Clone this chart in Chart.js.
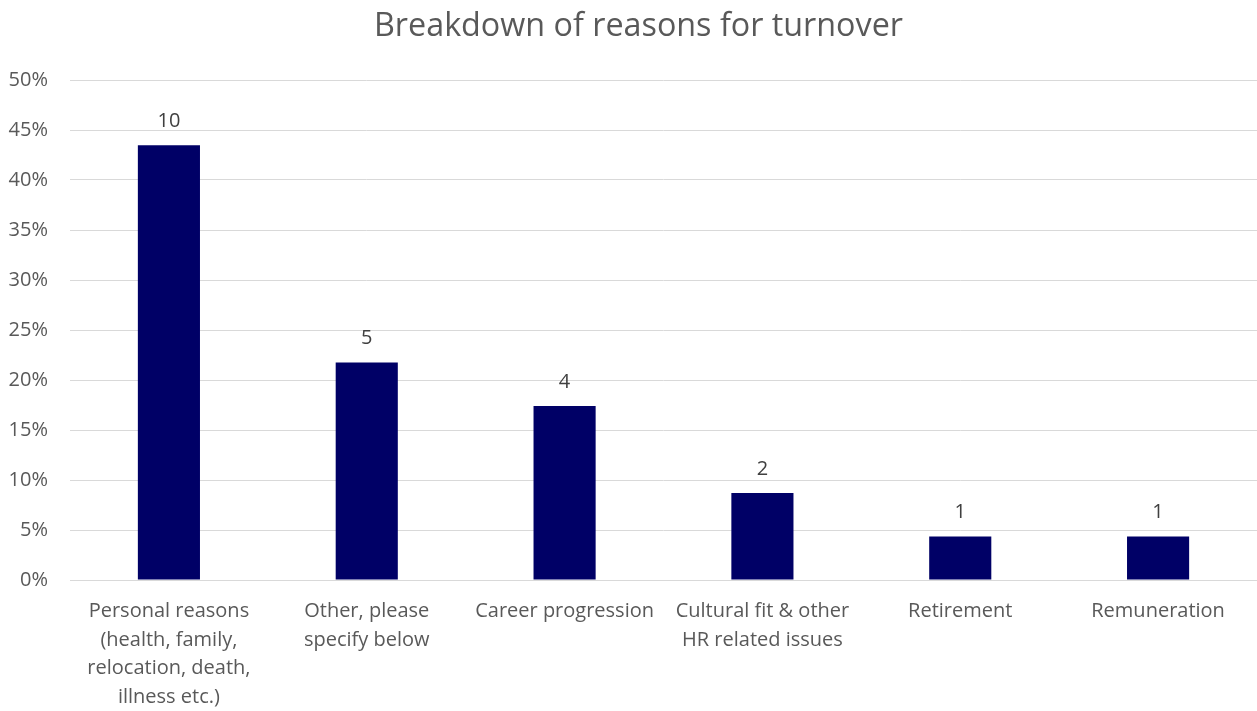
<!DOCTYPE html>
<html>
<head>
<meta charset="utf-8">
<script src="https://cdn.jsdelivr.net/npm/chart.js@4/dist/chart.umd.min.js"></script>
<style>
  html, body { margin: 0; padding: 0; background: #fff; }
  #wrap { width: 1257px; height: 711px; }
</style>
</head>
<body>
<div id="wrap"><canvas id="chart"></canvas></div>
<script>
const categories = [
  ["Personal reasons", "(health, family,", "relocation, death,", "illness etc.)"],
  ["Other, please", "specify below"],
  "Career progression",
  ["Cultural fit & other", "HR related issues"],
  "Retirement",
  "Remuneration",
];
// number of leavers per reason
const counts = [10, 5, 4, 2, 1, 1];
const totalLeavers = 23;
const shares = counts.map((c) => (c / totalLeavers) * 100);

const yTicks = [0, 5, 10, 15, 20, 25, 30, 35, 40, 45, 50];
const chartTitle = "Breakdown of reasons for turnover";

const FONT = "'Open Sans', sans-serif";
const TEXT = "#595959";

// title centred a little right of the canvas middle, over the plot
const titleText = {
  id: "titleText",
  afterDraw(chart) {
    const { ctx } = chart;
    ctx.save();
    ctx.font = `32.3px ${FONT}`;
    ctx.fillStyle = TEXT;
    ctx.textAlign = "center";
    ctx.textBaseline = "middle";
    ctx.fillText(chartTitle, (chart.width + 20) / 2, 27);
    ctx.restore();
  },
};

// writes the raw count above each bar
const countLabels = {
  id: "countLabels",
  afterDatasetsDraw(chart) {
    const { ctx } = chart;
    const meta = chart.getDatasetMeta(0);
    ctx.save();
    ctx.font = `20px ${FONT}`;
    ctx.fillStyle = "#404040";
    ctx.textAlign = "center";
    ctx.textBaseline = "middle";
    meta.data.forEach((bar, i) => {
      ctx.fillText(String(counts[i]), bar.x, bar.y - 24);
    });
    ctx.restore();
  },
};

new Chart(document.getElementById("chart"), {
  type: "bar",
  data: {
    labels: categories,
    datasets: [
      {
        data: shares,
        backgroundColor: "#000066",
        borderWidth: 0,
        categoryPercentage: 1,
        barPercentage: 0.314,
      },
    ],
  },
  options: {
    responsive: true,
    maintainAspectRatio: false,
    animation: false,
    layout: { padding: { left: 0, right: 0, top: 80, bottom: 0 } },
    plugins: {
      legend: { display: false },
      tooltip: { enabled: false },
      title: { display: false },
    },
    scales: {
      x: {
        grid: { display: false, drawTicks: false },
        border: { display: true, color: "#d9d9d9", width: 1 },
        ticks: {
          color: TEXT,
          font: { family: FONT, size: 20, lineHeight: 1.43 },
          padding: 17,
          maxRotation: 0,
          autoSkip: false,
        },
        afterFit(scale) { scale.height = 131; },
      },
      y: {
        min: 0,
        max: 50,
        afterBuildTicks(scale) { scale.ticks = yTicks.map((v) => ({ value: v })); },
        grid: { color: "#d9d9d9", lineWidth: 1, drawTicks: false },
        border: { display: false },
        ticks: {
          color: TEXT,
          font: { family: FONT, size: 20 },
          padding: 22,
          callback: (v) => v + "%",
        },
        afterFit(scale) { scale.width = 70; },
      },
    },
  },
  plugins: [countLabels, titleText],
});
</script>
</body>
</html>
